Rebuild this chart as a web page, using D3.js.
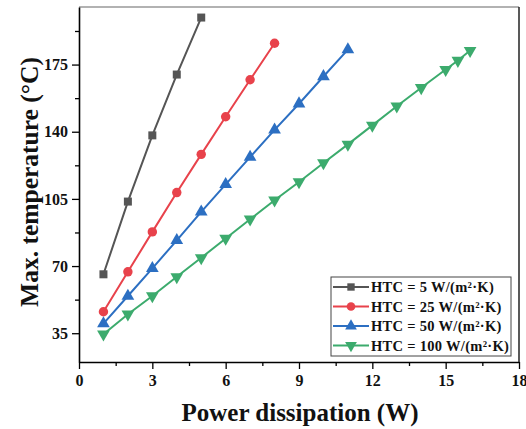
<!DOCTYPE html>
<html>
<head>
<meta charset="utf-8">
<script src="https://cdn.jsdelivr.net/npm/d3@7"></script>
<style>
body{margin:0;background:#fff;}
text{font-family:"Liberation Serif","Times New Roman",serif;font-weight:bold;}
</style>
</head>
<body>
<svg id="chart" width="526" height="429"></svg>
<script>
// data
var powerA=[1,2,3,4,5];
var tempA=[65.7,103.6,138.1,169.8,199.5];
var powerB=[1,2,3,4,5,6,7,8];
var tempB=[46.2,67,87.8,108.3,128.2,147.8,167.1,186.1];
var powerC=[1,2,3,4,5,6,7,8,9,10,11];
var tempC=[40,54.4,68.8,83.4,98.2,112.6,126.8,141,154.6,168.8,182.8];
var powerD=[1,2,3,4,5,6,7,8,9,10,11,12,13,14,15,15.5,16];
var tempD=[34.5,44.9,54.4,64.4,74.3,84.4,94.4,104.3,113.8,123.7,133.4,143.3,153.3,162.9,172.4,177.1,182.3];
var seriesNames=["HTC = 5 W/(m²·K)","HTC = 25 W/(m²·K)","HTC = 50 W/(m²·K)","HTC = 100 W/(m²·K)"];
var colors=["#555555","#e8424b","#2c6fc2","#3cab6d"];
var xTicks=[0,3,6,9,12,15,18];
var yTicks=[35,70,105,140,175];

var svg=d3.select("#chart");
var L=79,R=519,T=7,B=362;

var x=d3.scaleLinear().domain([0,18]).range([L,R]);
var y=d3.scaleLinear().domain([20,205]).range([B,T]);

// frame top/right
svg.append("line").attr("x1",L).attr("x2",R).attr("y1",T).attr("y2",T).attr("stroke","#666").attr("stroke-width",1.2);
svg.append("line").attr("x1",R).attr("x2",R).attr("y1",T).attr("y2",B).attr("stroke","#222").attr("stroke-width",1.5);

// minor ticks
var xMinor=d3.range(1.5,18,3);
var yMinor=[52.5,87.5,122.5,157.5,192.5];
svg.append("g").attr("transform","translate(0,"+B+")")
  .call(d3.axisBottom(x).tickValues(xMinor).tickSize(4).tickFormat(""))
  .call(g=>g.select(".domain").remove())
  .selectAll("line").attr("stroke","#000").attr("stroke-width",1.3);
svg.append("g").attr("transform","translate("+L+",0)")
  .call(d3.axisLeft(y).tickValues(yMinor).tickSize(4).tickFormat(""))
  .call(g=>g.select(".domain").remove())
  .selectAll("line").attr("stroke","#000").attr("stroke-width",1.3);

// main axes
var gx=svg.append("g").attr("transform","translate(0,"+B+")")
  .call(d3.axisBottom(x).tickValues(xTicks).tickSize(7).tickSizeOuter(0).tickPadding(6));
var gy=svg.append("g").attr("transform","translate("+L+",0)")
  .call(d3.axisLeft(y).tickValues(yTicks).tickSize(7).tickSizeOuter(0).tickPadding(4));
[gx,gy].forEach(function(g){
  g.select(".domain").attr("stroke","#000").attr("stroke-width",1.6);
  g.selectAll(".tick line").attr("stroke","#000").attr("stroke-width",1.3);
  g.selectAll(".tick text").attr("fill","#111").style("font-size","16px")
    .style("font-family","'Liberation Serif',serif").style("font-weight","bold");
});

var line=d3.line().x(d=>x(d[0])).y(d=>y(d[1]));
var sets=[d3.zip(powerA,tempA),d3.zip(powerB,tempB),d3.zip(powerC,tempC),d3.zip(powerD,tempD)];
var symbols=[d3.symbolSquare,d3.symbolCircle,d3.symbolTriangle,d3.symbolTriangle];
var sizes=[64,70,70,70];

function marker(g,i,cx,cy,k){
  var s=g.append("path").attr("d",d3.symbol().type(symbols[i]).size(sizes[i]*(k||1))())
    .attr("fill",colors[i]);
  var rot=i==3?" rotate(180)":"";
  s.attr("transform","translate("+cx+","+cy+")"+rot);
}

sets.forEach(function(data,i){
  var g=svg.append("g");
  g.append("path").datum(data).attr("d",line).attr("fill","none")
    .attr("stroke",colors[i]).attr("stroke-width",2);
  data.forEach(function(d){marker(g,i,x(d[0]),y(d[1]));});
});

// legend
var lg=svg.append("g");
lg.append("rect").attr("x",331).attr("y",277).attr("width",180).attr("height",79)
  .attr("fill","#fff").attr("stroke","#444").attr("stroke-width",1);
seriesNames.forEach(function(name,i){
  var yy=287+i*19.5;
  lg.append("line").attr("x1",333).attr("x2",369).attr("y1",yy).attr("y2",yy)
    .attr("stroke",colors[i]).attr("stroke-width",2);
  marker(lg,i,351,yy,0.85);
  lg.append("text").attr("x",371).attr("y",yy+5).text(name)
    .style("font-size","14.5px").style("letter-spacing","0.3px").attr("fill","#111");
});

// axis titles
svg.append("text").attr("x",300).attr("y",421).attr("text-anchor","middle")
  .style("font-size","25px").attr("fill","#111").text("Power dissipation (W)");
svg.append("text").attr("transform","translate(38,182) rotate(-90)").attr("text-anchor","middle")
  .style("font-size","25.5px").attr("fill","#111").text("Max. temperature (°C)");
</script>
</body>
</html>
